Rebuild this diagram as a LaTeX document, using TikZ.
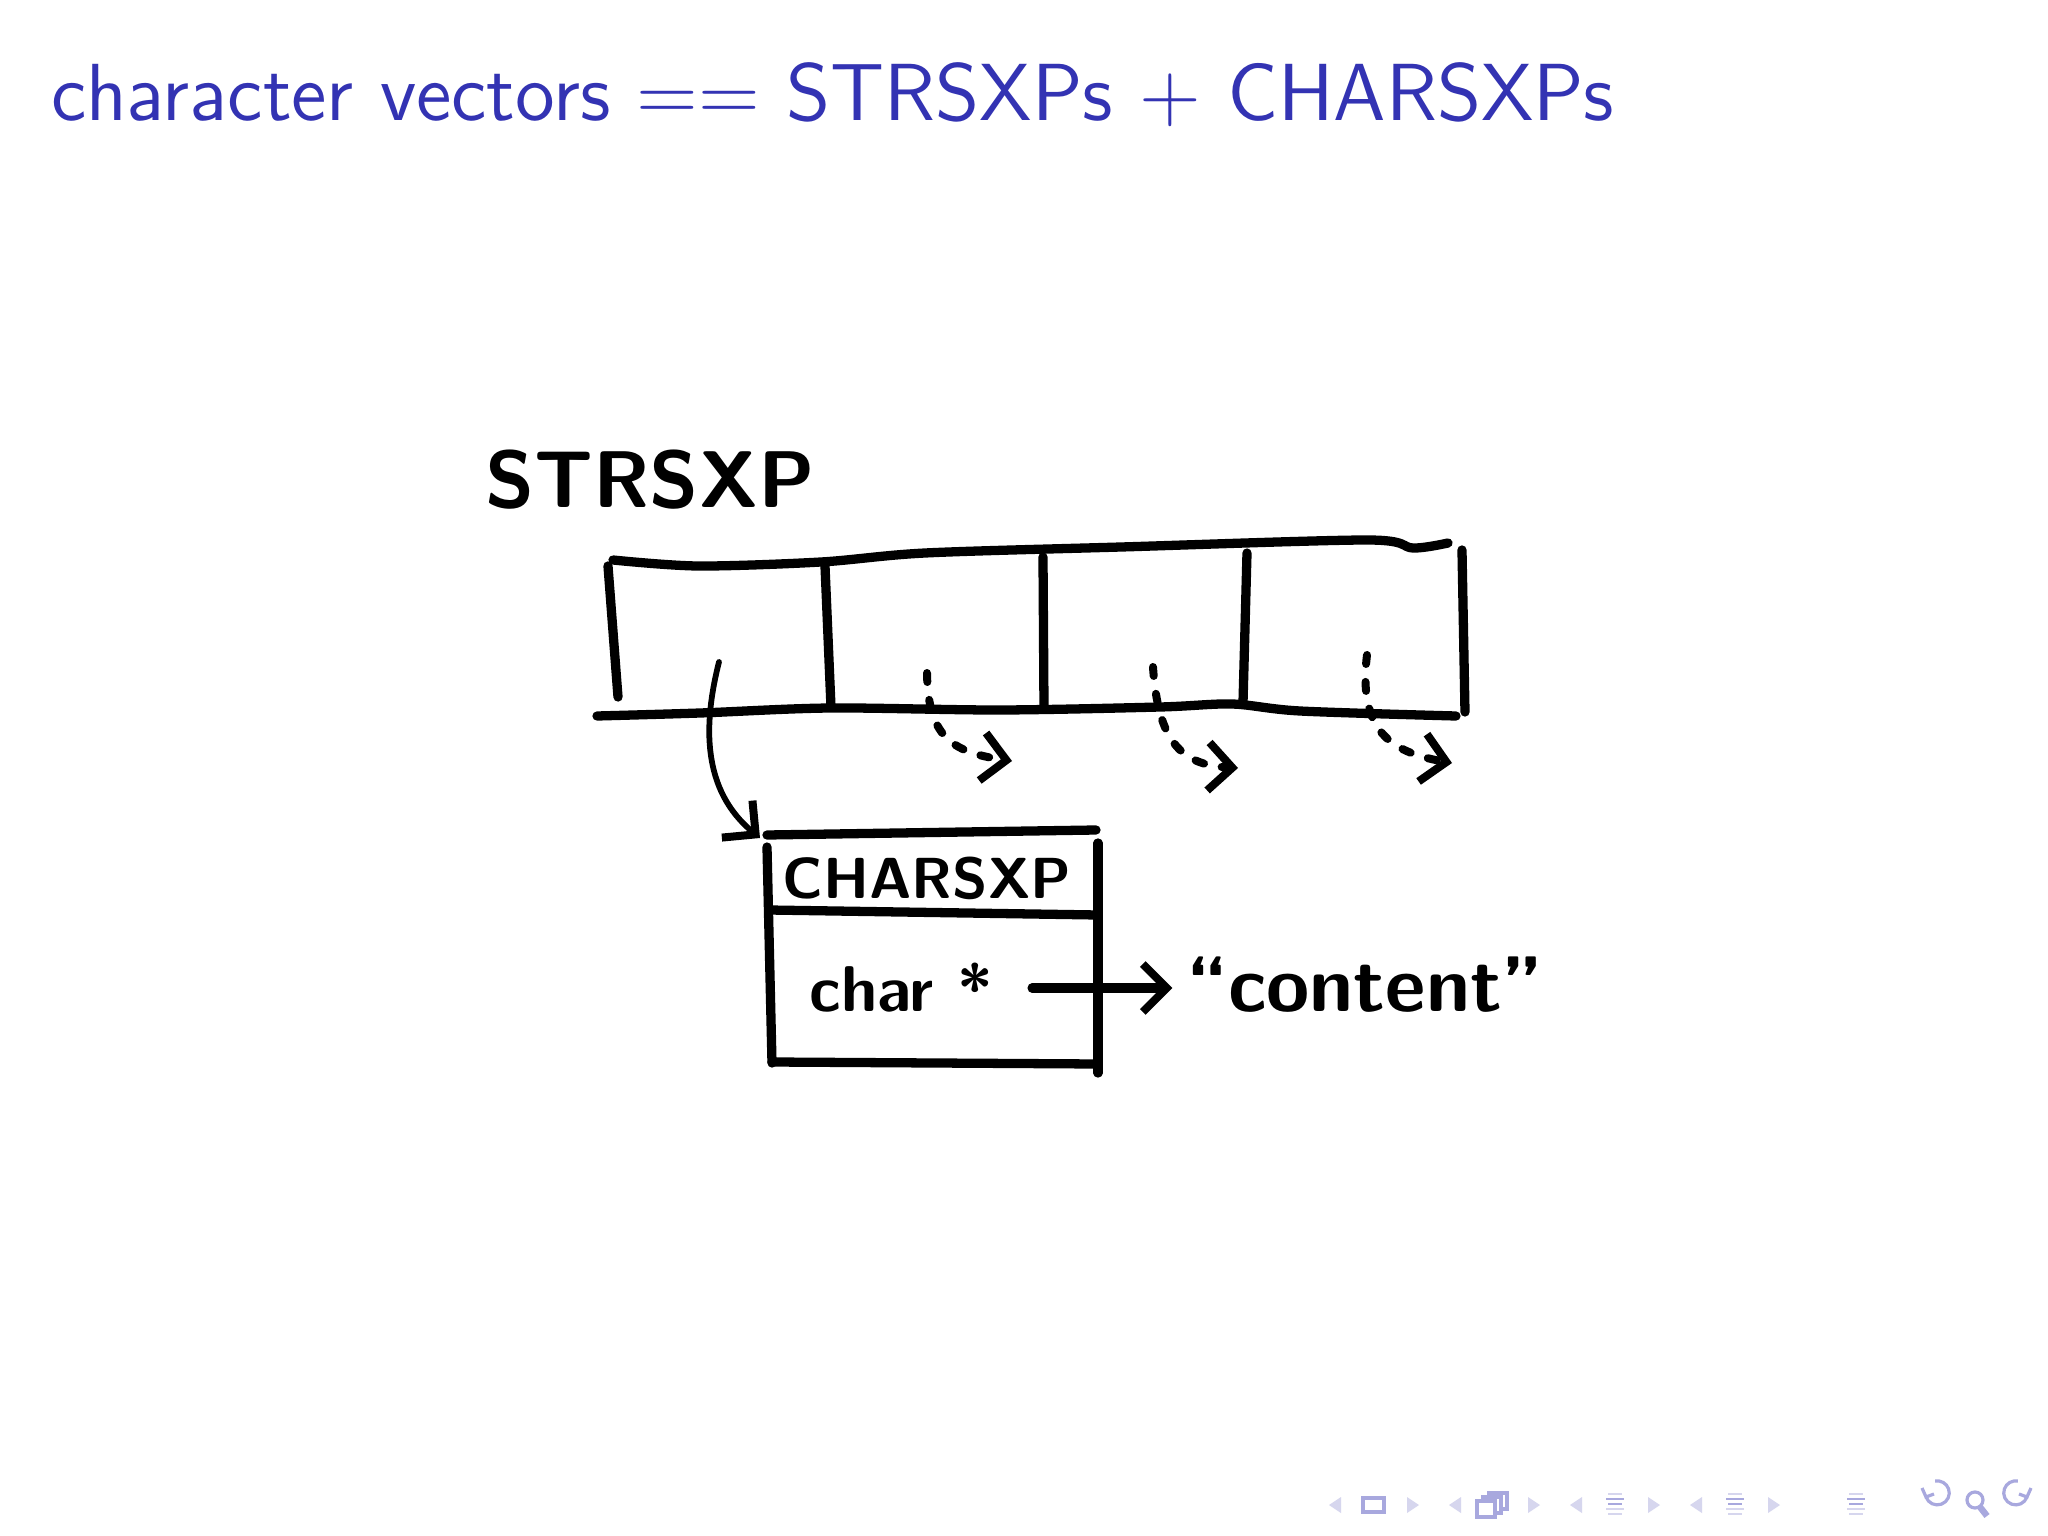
\documentclass[tikz,border=0pt]{standalone}
\usepackage{fontspec}
\usetikzlibrary{arrows.meta}
\definecolor{slideblue}{RGB}{51,51,179}
\definecolor{navlight}{RGB}{214,214,238}
\definecolor{navdark}{RGB}{168,168,222}
\tikzset{
	pen/.style={line width=0.58mm, line cap=round, line join=round},
	thinpen/.style={line width=0.36mm, line cap=round},
	dashpen/.style={line width=0.5mm, line cap=round, dash pattern=on 1.6pt off 3.2pt},
	hand/.style={font=\sffamily\bfseries, inner sep=0pt},
	barb/.style={-{Straight Barb[length=1.5mm,width=3mm,line width=0.5mm]}},
	navicon/.style={draw=navdark, line width=0.2mm},
}
\def\navbars(#1){\foreach \yy/\ww/\cc in {1494/7/navlight,1499/9/navdark,1504/7/navdark,1509/9/navlight,1514/7/navlight}{\draw[\cc, line width=0.17mm] (#1-\ww,\yy) -- (#1+\ww,\yy);}}

\begin{document}
\begin{tikzpicture}[x=0.0625mm, y=-0.0625mm]
			%%%%% START %%%%%
			\useasboundingbox[fill=white] (0,0) rectangle (2048,1536);
			
			\node[anchor=base west, inner sep=0pt, text=slideblue, font=\Large\sffamily] (title) at (50,120) {character vectors $==$ STRSXPs $+$ CHARSXPs};
			
			% the STRSXP array
			\node[hand, font=\sffamily\bfseries\fontsize{14.3}{16}\selectfont] (strsxp) at (650,480) {STRSXP};
			\draw[pen] plot[smooth, tension=0.5] coordinates {(613,560) (698,566) (821,562) (925,553) (1121,547) (1368,540) (1413,548) (1448,543)};
			\draw[pen] plot[smooth, tension=0.5] coordinates {(597,716) (700,713) (830,708) (1000,710) (1160,707) (1232,704) (1300,711) (1456,716)};
			\draw[pen] (608,566) -- (618,697);
			\draw[pen] (825,566) -- (831,707);
			\draw[pen] (1043,557) -- (1044,708);
			\draw[pen] (1247,553) -- (1243,703);
			\draw[pen] (1462,550) -- (1465,712);
			
			\coordinate (cellA) at (719,662);
			\coordinate (cellB) at (927,673);
			\coordinate (cellC) at (1153,667);
			\coordinate (cellD) at (1367,655);
			\coordinate (nextB) at (1012,761);
			\coordinate (nextC) at (1238,768);
			\coordinate (nextD) at (1452,763);
			
			\draw[dashpen, barb] (cellB) .. controls (928,735) and (950,752) .. (nextB);
			\draw[dashpen, barb] (cellC) .. controls (1158,740) and (1180,765) .. (nextC);
			\draw[dashpen, barb] (cellD) .. controls (1358,730) and (1390,752) .. (nextD);
			
			% the CHARSXP box
			\coordinate (charnw) at (760,838);
			\draw[thinpen, barb] (cellA) .. controls (703,725) and (702,790) .. (charnw);
			
			\draw[pen] (767,835) -- (1096,830);
			\draw[pen] (767,847) -- (772,1063);
			\draw[pen] (1098,843) -- (1098,1073);
			\draw[pen] (769,910) -- (1098,915);
			\draw[pen] (772,1062) -- (1098,1064);
			
			\node[hand, font=\sffamily\bfseries\fontsize{10.3}{12}\selectfont] (charsxp) at (927,878) {CHARSXP};
			\node[hand, font=\sffamily\bfseries\fontsize{11.5}{13}\selectfont, inner xsep=2.4mm] (charptr) at (901,988) {char *};
			\node[hand, font=\sffamily\bfseries\fontsize{14}{16}\selectfont, inner xsep=0.8mm] (content) at (1365,985) {``content''};
			\draw[pen, barb] (charptr.east) -- (charptr.east -| content.west);
			
			% navigation symbols
			\foreach \x in {1329,1449,1570,1690}
				\fill[navlight] (\x+12,1497) -- (\x,1505) -- (\x+12,1513) -- cycle;
			\foreach \x in {1407,1528,1648,1768}
				\fill[navlight] (\x,1497) -- (\x+12,1505) -- (\x,1513) -- cycle;
			\draw[navicon] (1363,1498) rectangle (1384,1512);
			\draw[navicon] (1489,1493) rectangle (1507,1509);
			\draw[navicon, fill=white] (1483,1497) rectangle (1501,1513);
			\draw[navicon, fill=white] (1477,1501) rectangle (1495,1517);
			\navbars(1615)
			\navbars(1735)
			\navbars(1856)
			\draw[navicon] (1926,1497) arc (160:-100:12);
			\draw[navicon] (1922,1488) -- (1926,1497) -- (1934,1494);
			\draw[navicon] (1975,1500) circle (8);
			\draw[navicon, line width=0.4mm] (1980,1507) -- (1987,1516);
			\draw[navicon] (2027,1497) arc (20:280:12);
			\draw[navicon] (2031,1488) -- (2027,1497) -- (2019,1494);
			%%%%% END %%%%%
\end{tikzpicture}
\end{document}
